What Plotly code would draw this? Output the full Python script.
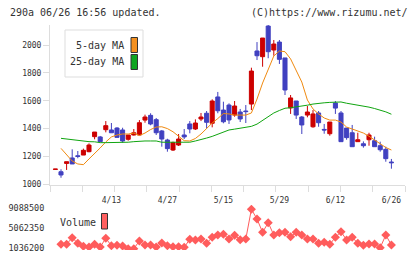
import plotly.graph_objects as go

# ---------------- data ----------------
candle_idx = list(range(61))
opens  = [1107, 1090, 1150, 1189, 1205, 1210, 1234, 1342, 1340, 1392,
          1390, 1404, 1390, 1323, 1354, 1354, 1461, 1495, 1464, 1383,
          1318, 1246, 1282, 1354, 1433, 1397, 1469, 1510, 1438, 1627,
          1533, 1569, 1497, 1519, 1526, 1576, 1957, 1916, 2136, 1964,
          2021, 1907, 1548, 1598, 1483, 1497, 1413, 1512, 1394, 1363,
          1583, 1512, 1404, 1370, 1306, 1291, 1320, 1313, 1277, 1251,
          1160]
highs  = [1109, 1108, 1162, 1251, 1239, 1256, 1294, 1375, 1347, 1454,
          1440, 1410, 1406, 1354, 1397, 1461, 1500, 1510, 1476, 1390,
          1327, 1306, 1361, 1397, 1454, 1466, 1512, 1526, 1610, 1663,
          1593, 1581, 1598, 1541, 1569, 1837, 2021, 2050, 2144, 2036,
          2036, 1907, 1641, 1598, 1490, 1562, 1533, 1526, 1433, 1447,
          1598, 1526, 1404, 1426, 1370, 1308, 1370, 1342, 1306, 1270,
          1182]
lows   = [1107, 1047, 1103, 1146, 1187, 1210, 1230, 1323, 1306, 1373,
          1370, 1335, 1299, 1313, 1350, 1354, 1442, 1424, 1354, 1270,
          1234, 1239, 1275, 1325, 1366, 1390, 1454, 1402, 1409, 1510,
          1438, 1433, 1485, 1447, 1440, 1533, 1892, 1844, 1905, 1923,
          1864, 1641, 1505, 1469, 1361, 1481, 1406, 1413, 1363, 1349,
          1505, 1306, 1320, 1270, 1306, 1263, 1277, 1270, 1234, 1162,
          1112]
closes = [1109, 1067, 1162, 1146, 1200, 1244, 1282, 1375, 1306, 1421,
          1370, 1337, 1311, 1354, 1370, 1442, 1483, 1433, 1370, 1325,
          1256, 1299, 1325, 1340, 1397, 1440, 1483, 1445, 1598, 1528,
          1449, 1462, 1562, 1469, 1522, 1813, 1923, 2050, 1952, 2007,
          1897, 1677, 1620, 1497, 1426, 1519, 1505, 1442, 1390, 1447,
          1547, 1306, 1335, 1270, 1320, 1277, 1354, 1270, 1248, 1184,
          1155]

line_idx = list(range(1, 61))
ma5  = [1258, 1210, 1167, 1146, 1141, 1182, 1218, 1261, 1304, 1340,
        1354, 1361, 1361, 1368, 1350, 1368, 1393, 1411, 1413, 1400,
        1377, 1343, 1313, 1311, 1329, 1361, 1404, 1440, 1472, 1508,
        1505, 1497, 1497, 1497, 1512, 1612, 1727, 1831, 1921, 1957,
        1952, 1900, 1820, 1734, 1605, 1541, 1505, 1476, 1461, 1461,
        1447, 1411, 1397, 1383, 1368, 1345, 1318, 1289, 1264, 1246]
ma25 = [1330, 1325, 1318, 1313, 1309, 1306, 1305, 1299, 1299, 1299,
        1299, 1300, 1302, 1306, 1311, 1311, 1311, 1311, 1302, 1302,
        1302, 1302, 1302, 1302, 1311, 1320, 1332, 1344, 1360, 1378,
        1390, 1396, 1404, 1410, 1416, 1432, 1460, 1490, 1512, 1530,
        1546, 1550, 1555, 1560, 1568, 1576, 1582, 1585, 1588, 1591,
        1591, 1582, 1576, 1570, 1562, 1554, 1544, 1533, 1520, 1503]
volume = [1840000, 1840000, 3170000, 2040000, 1440000, 1300000, 1840000, 1300000, 3050000, 1560000,
          1640000, 1500000, 960000, 960000, 2510000, 1700000, 1700000, 1300000, 2100000, 1560000,
          1360000, 1360000, 1240000, 2850000, 2710000, 2910000, 2040000, 3250000, 3710000, 3850000,
          2910000, 3650000, 2770000, 2910000, 8890000, 6930000, 4260000, 6190000, 3710000, 4180000,
          4260000, 3370000, 4260000, 3710000, 2910000, 2910000, 2040000, 2240000, 1840000, 3250000,
          4380000, 2710000, 3250000, 2040000, 1640000, 1900000, 1900000, 1160000, 3710000, 1700000]

date_tick_idx = [10, 20, 30, 40, 50, 60]
date_tick_labels = ["4/13", "4/27", "5/15", "5/29", "6/12", "6/26"]
price_ticks = [1000, 1200, 1400, 1600, 1800, 2000]
volume_ticks = [1036200, 5062350, 9088500]

# ---------------- style / layout ----------------
W, H = 420, 259
ML, MR, MT, MB = 50, 15, 25, 9
PW, PH = W - ML - MR, H - MT - MB
RED, BLUE = "#cc0000", "#4040c0"
ORANGE, GREEN = "#f08a10", "#10a510"
VOLC = "#ff5c5c"
GRID = "#dddddd"
TXT = "#333333"
MONO = "DejaVu Sans Mono"


def pxx(px):
    return (px - ML) / PW


def pxy(py):
    return (H - MB - py) / PH


x_r0 = (50 - 55.4) / 5.6
x_r1 = (405 - 55.4) / 5.6
p_per_px = 1000 / (184.3 - 45.0)
y_range = [1000 - (185 - 184.3) * p_per_px, 2000 + (45.0 - 25) * p_per_px]
v_per_px = (9088500 - 1036200) / (248.3 - 208.3)
v_range = [1036200 - (250 - 248.3) * v_per_px, 9088500 + (208.3 - 205) * v_per_px]

fig = go.Figure()
fig.add_trace(go.Candlestick(
    x=candle_idx, open=opens, high=highs, low=lows, close=closes,
    increasing=dict(line=dict(color=RED, width=1), fillcolor=RED),
    decreasing=dict(line=dict(color=BLUE, width=1), fillcolor=BLUE),
    whiskerwidth=0, showlegend=False, hoverinfo="skip",
    xaxis="x", yaxis="y"))
fig.add_trace(go.Scatter(x=line_idx, y=ma5, mode="lines",
                         line=dict(color=ORANGE, width=1), showlegend=False,
                         hoverinfo="skip", xaxis="x", yaxis="y"))
fig.add_trace(go.Scatter(x=line_idx, y=ma25, mode="lines",
                         line=dict(color=GREEN, width=1), showlegend=False,
                         hoverinfo="skip", xaxis="x", yaxis="y"))
fig.add_trace(go.Scatter(x=line_idx, y=volume, mode="lines+markers",
                         line=dict(color=VOLC, width=1),
                         marker=dict(symbol="diamond", size=7, color=VOLC),
                         showlegend=False, hoverinfo="skip",
                         xaxis="x2", yaxis="y2"))

shapes = [
    # MA legend box
    dict(type="rect", xref="paper", yref="paper", x0=pxx(65), x1=pxx(143),
         y0=pxy(77), y1=pxy(30), line=dict(color=GRID, width=1),
         fillcolor="white", layer="above"),
    dict(type="rect", xref="paper", yref="paper", x0=pxx(131), x1=pxx(137.5),
         y0=pxy(52.5), y1=pxy(37.5), line=dict(color="#333333", width=1),
         fillcolor="#f39020", layer="above"),
    dict(type="rect", xref="paper", yref="paper", x0=pxx(131), x1=pxx(137.5),
         y0=pxy(69.5), y1=pxy(54.5), line=dict(color="#333333", width=1),
         fillcolor="#10a520", layer="above"),
    # Volume legend swatch
    dict(type="rect", xref="paper", yref="paper", x0=pxx(101.5), x1=pxx(107.5),
         y0=pxy(229), y1=pxy(213.5), line=dict(color="#333333", width=1),
         fillcolor="#ff6060", layer="above"),
]

annotations = [
    dict(text="290a 06/26 16:56 updated.", xref="paper", yref="paper",
         x=pxx(8), y=pxy(12.5), xanchor="left", yanchor="middle",
         showarrow=False, font=dict(family=MONO, size=10, color=TXT)),
    dict(text="(C)https://www.rizumu.net/", xref="paper", yref="paper",
         x=pxx(410), y=pxy(12.5), xanchor="right", yanchor="middle",
         showarrow=False, font=dict(family=MONO, size=10, color=TXT)),
    dict(text="5-day MA", xref="paper", yref="paper",
         x=pxx(126), y=pxy(45.5), xanchor="right", yanchor="middle",
         showarrow=False, font=dict(family=MONO, size=10, color=TXT)),
    dict(text="25-day MA", xref="paper", yref="paper",
         x=pxx(126), y=pxy(61), xanchor="right", yanchor="middle",
         showarrow=False, font=dict(family=MONO, size=10, color=TXT)),
    dict(text="Volume", xref="paper", yref="paper",
         x=pxx(58), y=pxy(222), xanchor="left", yanchor="middle",
         showarrow=False, font=dict(family=MONO, size=10, color=TXT)),
]

fig.update_layout(
    width=W, height=H, template="none",
    margin=dict(l=ML, r=MR, t=MT, b=MB, pad=0),
    paper_bgcolor="white", plot_bgcolor="white",
    boxgap=0.28, boxgroupgap=0,
    showlegend=False,
    shapes=shapes, annotations=annotations,
    xaxis=dict(
        domain=[0, 1], anchor="y", range=[x_r0, x_r1],
        showline=True, linecolor=GRID, linewidth=1,
        showgrid=False, zeroline=False,
        tickmode="array", tickvals=date_tick_idx, ticktext=date_tick_labels,
        ticks="", ticklabelstandoff=7,
        tickfont=dict(family=MONO, size=8, color=TXT),
        minor=dict(tick0=x_r0, dtick=(x_r1 - x_r0) / 11, ticks="outside",
                   ticklen=6, tickcolor=GRID, tickwidth=1, showgrid=False),
        rangeslider=dict(visible=False), fixedrange=True,
    ),
    yaxis=dict(
        domain=[pxy(185), 1], anchor="x", range=y_range,
        showline=True, linecolor=GRID, linewidth=1,
        showgrid=False, zeroline=False,
        tickmode="array", tickvals=price_ticks,
        ticktext=[str(v) for v in price_ticks],
        ticks="outside", ticklen=6, tickcolor=GRID, tickwidth=1,
        tickfont=dict(family=MONO, size=8, color=TXT),
    ),
    xaxis2=dict(
        domain=[0, 1], anchor="y2", range=[x_r0, x_r1], matches="x",
        showline=False, showgrid=False, zeroline=False,
        showticklabels=False, ticks="",
    ),
    yaxis2=dict(
        domain=[0, pxy(205)], anchor="x2", range=v_range,
        showline=False, showgrid=False, zeroline=False,
        tickmode="array", tickvals=volume_ticks,
        ticktext=[str(v) for v in volume_ticks],
        ticks="outside", ticklen=3, tickcolor="rgba(0,0,0,0)",
        tickfont=dict(family=MONO, size=8.5, color=TXT),
    ),
)

fig.write_html("out.html")
